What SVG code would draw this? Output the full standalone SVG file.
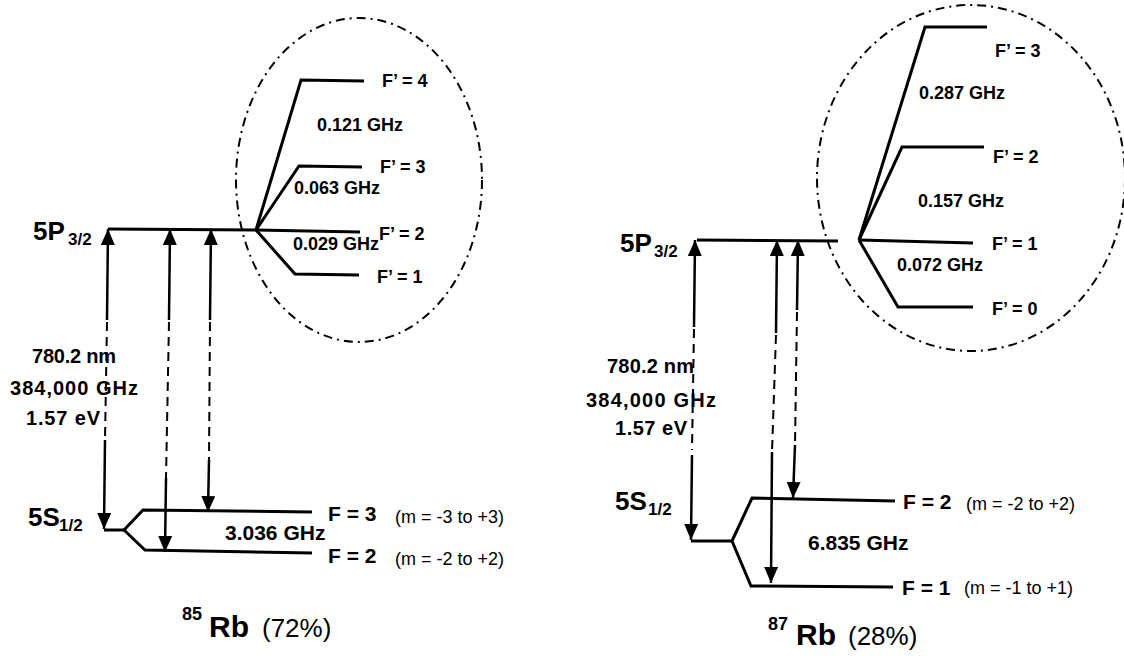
<svg xmlns="http://www.w3.org/2000/svg" width="1124" height="658" viewBox="0 0 1124 658">
<style>
text{font-family:"Liberation Sans",Arial,sans-serif;fill:#000}
.b{font-weight:bold}
.lvl{fill:none;stroke:#000;stroke-width:3;stroke-linejoin:miter}
.ell{fill:none;stroke:#000;stroke-width:2;stroke-dasharray:9 5 2 5}
.ar{fill:none;stroke:#000;stroke-width:2.5}
.dash{fill:none;stroke:#000;stroke-width:2;stroke-dasharray:9 6}
.big{font-size:26px;font-weight:bold}
.sub{font-size:17px;font-weight:bold}
.hf{font-size:18px;font-weight:bold}
.fl{font-size:21px;font-weight:bold}
.m{font-size:18px}
.tr{font-size:20px;font-weight:bold}
.iso{font-size:18px;font-weight:bold}
.rb{font-size:30px;font-weight:bold}
.pc{font-size:26px}
</style>
<defs>
<marker id="ah" viewBox="0 0 16 14" refX="16" refY="7" markerWidth="16" markerHeight="14" markerUnits="userSpaceOnUse" orient="auto">
<path d="M0,0 L16,7 L0,14 z" fill="#000"/>
</marker>
</defs>

<!-- Left: 85Rb -->
<g id="rb85-5p">
<path class="lvl" d="M108,229 L256,230"/>
<text class="big" x="33" y="240">5P</text><text class="sub" x="68" y="245">3/2</text>
</g>
<g id="rb85-hyperfine-circle">
<ellipse class="ell" cx="359" cy="180" rx="123" ry="162"/>
</g>
<g id="rb85-fp4">
<path class="lvl" d="M256,230 L301,80 L364,81"/>
<text class="hf" x="382" y="87">F’ = 4</text>
</g>
<g id="rb85-fp3">
<path class="lvl" d="M256,230 L299,166 L362,167"/>
<text class="hf" x="380" y="173">F’ = 3</text>
</g>
<g id="rb85-fp2">
<path class="lvl" d="M256,230 L360,232"/>
<text class="hf" x="379" y="240">F’ = 2</text>
</g>
<g id="rb85-fp1">
<path class="lvl" d="M256,230 L295,274 L359,275"/>
<text class="hf" x="377" y="283">F’ = 1</text>
</g>
<g id="rb85-hf-labels">
<text class="hf" x="317" y="131">0.121 GHz</text>
<text class="hf" x="294" y="194">0.063 GHz</text>
<text class="hf" x="293" y="250">0.029 GHz</text>
</g>
<g id="rb85-transition-label">
<text class="tr" x="32" y="363" textLength="84">780.2 nm</text>
<text class="tr" x="10" y="395" textLength="128">384,000 GHz</text>
<text class="tr" x="26" y="425" textLength="74">1.57 eV</text>
</g>
<g id="rb85-5s">
<path class="lvl" d="M104,530 L124,530"/>
<text class="big" x="28" y="526">5S</text><text class="sub" x="59" y="531">1/2</text>
</g>
<g id="rb85-f3">
<path class="lvl" d="M124,530 L143,510 L312,512"/>
<text class="fl" x="328" y="521">F = 3</text>
<text class="m" x="395" y="523">(m = -3 to +3)</text>
</g>
<g id="rb85-f2">
<path class="lvl" d="M124,530 L145,550 L312,553"/>
<text class="fl" x="328" y="563">F = 2</text>
<text class="m" x="395" y="565">(m = -2 to +2)</text>
</g>
<g id="rb85-split-label">
<text class="fl" x="225" y="540">3.036 GHz</text>
</g>
<g id="rb85-title">
<text class="iso" x="182" y="620">85</text>
<text class="rb" x="209" y="637">Rb</text>
<text class="pc" x="262" y="637">(72%)</text>
</g>

<!-- Right: 87Rb -->
<g id="rb87-5p">
<path class="lvl" d="M697,240 L838,241"/>
<text class="big" x="620" y="252">5P</text><text class="sub" x="654" y="257">3/2</text>
</g>
<g id="rb87-hyperfine-circle">
<ellipse class="ell" cx="971" cy="178" rx="154" ry="173"/>
</g>
<g id="rb87-fp3">
<path class="lvl" d="M859,240 L925,27 L987,27"/>
<text class="hf" x="995" y="57">F’ = 3</text>
</g>
<g id="rb87-fp2">
<path class="lvl" d="M859,240 L902,147 L984,147"/>
<text class="hf" x="993" y="163">F’ = 2</text>
</g>
<g id="rb87-fp1">
<path class="lvl" d="M859,240 L973,243"/>
<text class="hf" x="992" y="250">F’ = 1</text>
</g>
<g id="rb87-fp0">
<path class="lvl" d="M859,240 L898,307 L973,307"/>
<text class="hf" x="992" y="315">F’ = 0</text>
</g>
<g id="rb87-hf-labels">
<text class="hf" x="919" y="99">0.287 GHz</text>
<text class="hf" x="918" y="207">0.157 GHz</text>
<text class="hf" x="897" y="271">0.072 GHz</text>
</g>
<g id="rb87-transition-label">
<text class="tr" x="607" y="373" textLength="87">780.2 nm</text>
<text class="tr" x="586" y="407" textLength="130">384,000 GHz</text>
<text class="tr" x="615" y="435" textLength="72">1.57 eV</text>
</g>
<g id="rb87-5s">
<path class="lvl" d="M691,541 L732,541"/>
<text class="big" x="615" y="510">5S</text><text class="sub" x="648" y="515">1/2</text>
</g>
<g id="rb87-f2">
<path class="lvl" d="M732,541 L752,498 L895,501"/>
<text class="fl" x="903" y="509">F = 2</text>
<text class="m" x="966" y="510">(m = -2 to +2)</text>
</g>
<g id="rb87-f1">
<path class="lvl" d="M732,541 L751,586 L893,587"/>
<text class="fl" x="902" y="595">F = 1</text>
<text class="m" x="964" y="594">(m = -1 to +1)</text>
</g>
<g id="rb87-split-label">
<text class="fl" x="808" y="550">6.835 GHz</text>
</g>
<g id="rb87-title">
<text class="iso" x="768" y="630">87</text>
<text class="rb" x="796" y="645">Rb</text>
<text class="pc" x="848" y="645">(28%)</text>
</g>

<!-- Connectors -->
<g id="connectors">
<!-- 85Rb -->
<path class="ar" d="M107,320 L108,229" marker-end="url(#ah)"/>
<path class="dash" d="M107,322 L105,440"/>
<path class="ar" d="M105,440 L104,529" marker-end="url(#ah)"/>
<path class="ar" d="M169,320 L170,229" marker-end="url(#ah)"/>
<path class="dash" d="M169,322 L166,478"/>
<path class="ar" d="M166,478 L165,552" marker-end="url(#ah)"/>
<path class="ar" d="M210,320 L211,229" marker-end="url(#ah)"/>
<path class="dash" d="M210,322 L209,460"/>
<path class="ar" d="M209,460 L208,512" marker-end="url(#ah)"/>
<!-- 87Rb -->
<path class="ar" d="M694,327 L695,240" marker-end="url(#ah)"/>
<path class="dash" d="M694,329 L692,450"/>
<path class="ar" d="M692,455 L691,540" marker-end="url(#ah)"/>
<path class="ar" d="M776,333 L777,240" marker-end="url(#ah)"/>
<path class="dash" d="M776,335 L772,452"/>
<path class="ar" d="M772,452 L771,583" marker-end="url(#ah)"/>
<path class="ar" d="M797,310 L798,240" marker-end="url(#ah)"/>
<path class="dash" d="M797,312 L795,445"/>
<path class="ar" d="M795,445 L793,498" marker-end="url(#ah)"/>
</g>
</svg>
